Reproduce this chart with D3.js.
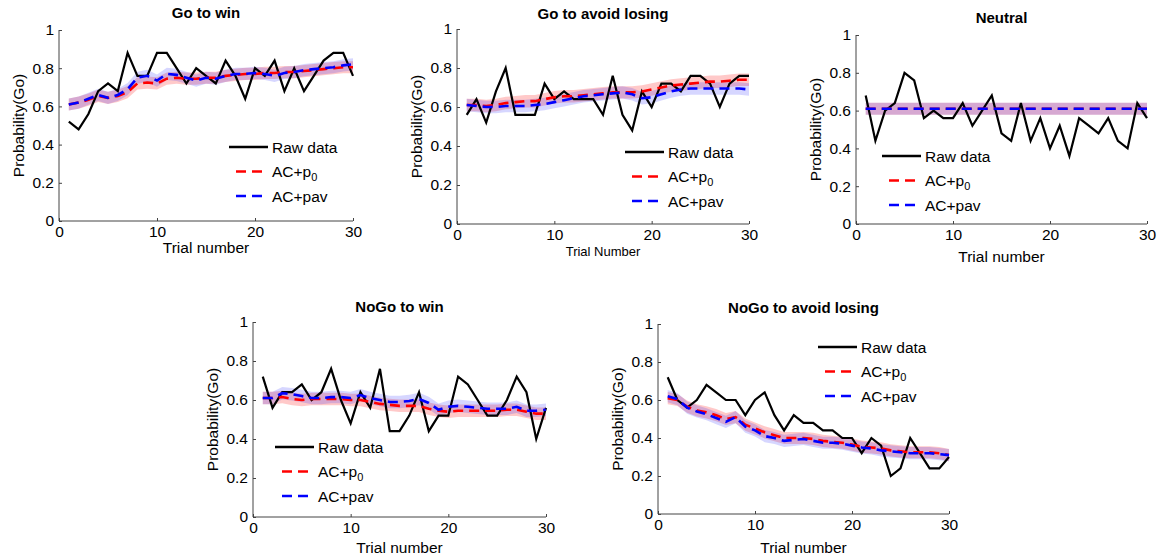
<!DOCTYPE html>
<html>
<head>
<meta charset="utf-8">
<script src="https://cdn.jsdelivr.net/npm/d3@7"></script>
<style>
  body { margin: 0; background: #fff; }
  svg { font-family: Arial, "Liberation Sans", sans-serif; }
  .axis path, .axis line { stroke: #444; }
  .axis text { font-size: 15.5px; fill: #000; }
</style>
</head>
<body>
<script>
// trial numbers 1..30
var trials = [1,2,3,4,5,6,7,8,9,10,11,12,13,14,15,16,17,18,19,20,21,22,23,24,25,26,27,28,29,30];
var xTicks = [0, 10, 20, 30];
var yTicks = [0, 0.2, 0.4, 0.6, 0.8, 1];
var legendLabels = ["Raw data", "AC+p0", "AC+pav"];

// Go to win
var rawGoWin = [0.52,0.48,0.56,0.68,0.72,0.68,0.88,0.76,0.76,0.88,0.88,0.80,0.72,0.80,0.76,0.72,0.84,0.76,0.64,0.80,0.76,0.84,0.68,0.80,0.68,0.76,0.84,0.88,0.88,0.76];
var p0GoWin = [0.61,0.62,0.635,0.655,0.645,0.655,0.675,0.72,0.725,0.72,0.745,0.75,0.745,0.745,0.75,0.75,0.76,0.765,0.77,0.77,0.775,0.775,0.78,0.78,0.785,0.79,0.795,0.80,0.805,0.805];
var pavGoWin = [0.61,0.62,0.64,0.66,0.645,0.66,0.69,0.75,0.76,0.735,0.77,0.765,0.75,0.735,0.75,0.745,0.76,0.77,0.77,0.775,0.77,0.76,0.775,0.78,0.79,0.795,0.80,0.805,0.815,0.82];

// Go to avoid losing
var rawGoAvoid = [0.56,0.64,0.52,0.68,0.80,0.56,0.56,0.56,0.72,0.64,0.68,0.64,0.64,0.64,0.56,0.76,0.56,0.48,0.68,0.60,0.72,0.72,0.68,0.76,0.76,0.72,0.60,0.72,0.76,0.76];
var p0GoAvoid = [0.61,0.61,0.605,0.61,0.62,0.625,0.63,0.63,0.64,0.65,0.655,0.655,0.66,0.665,0.67,0.675,0.675,0.675,0.68,0.69,0.70,0.71,0.715,0.72,0.725,0.73,0.73,0.735,0.74,0.74];
var pavGoAvoid = [0.61,0.605,0.60,0.60,0.605,0.605,0.605,0.61,0.615,0.625,0.635,0.645,0.655,0.66,0.665,0.67,0.675,0.665,0.645,0.65,0.665,0.68,0.69,0.695,0.695,0.695,0.695,0.695,0.695,0.69];

// Neutral
var rawNeutral = [0.68,0.44,0.60,0.64,0.80,0.76,0.56,0.60,0.56,0.56,0.64,0.52,0.60,0.68,0.48,0.44,0.64,0.44,0.56,0.40,0.52,0.36,0.56,0.52,0.48,0.56,0.44,0.40,0.64,0.56];
var p0Neutral = [0.61,0.61,0.61,0.61,0.61,0.61,0.61,0.61,0.61,0.61,0.61,0.61,0.61,0.61,0.61,0.61,0.61,0.61,0.61,0.61,0.61,0.61,0.61,0.61,0.61,0.61,0.61,0.61,0.61,0.61];
var pavNeutral = [0.61,0.61,0.61,0.61,0.61,0.61,0.61,0.61,0.61,0.61,0.61,0.61,0.61,0.61,0.61,0.61,0.61,0.61,0.61,0.61,0.61,0.61,0.61,0.61,0.61,0.61,0.61,0.61,0.61,0.61];

// NoGo to win
var rawNoGoWin = [0.72,0.56,0.64,0.64,0.68,0.60,0.64,0.76,0.60,0.48,0.64,0.56,0.76,0.44,0.44,0.52,0.64,0.44,0.52,0.52,0.72,0.68,0.60,0.52,0.52,0.60,0.72,0.64,0.40,0.56];
var p0NoGoWin = [0.61,0.61,0.615,0.605,0.60,0.605,0.605,0.605,0.605,0.60,0.60,0.59,0.58,0.575,0.57,0.57,0.57,0.555,0.545,0.54,0.545,0.545,0.545,0.545,0.545,0.55,0.55,0.54,0.53,0.53];
var pavNoGoWin = [0.61,0.61,0.635,0.63,0.62,0.61,0.61,0.615,0.615,0.61,0.625,0.61,0.60,0.59,0.59,0.595,0.605,0.585,0.55,0.565,0.57,0.565,0.56,0.555,0.555,0.555,0.565,0.545,0.545,0.55];

// NoGo to avoid losing
var rawNoGoAvoid = [0.72,0.60,0.56,0.60,0.68,0.64,0.60,0.60,0.52,0.60,0.64,0.52,0.44,0.52,0.48,0.48,0.44,0.44,0.40,0.40,0.32,0.40,0.36,0.20,0.24,0.40,0.32,0.24,0.24,0.30];
var p0NoGoAvoid = [0.61,0.60,0.565,0.545,0.535,0.52,0.50,0.51,0.47,0.45,0.43,0.415,0.40,0.40,0.40,0.395,0.385,0.38,0.375,0.365,0.355,0.35,0.345,0.335,0.33,0.325,0.325,0.325,0.32,0.31];
var pavNoGoAvoid = [0.62,0.605,0.56,0.54,0.525,0.505,0.485,0.51,0.46,0.44,0.41,0.40,0.385,0.39,0.395,0.385,0.375,0.375,0.37,0.36,0.35,0.345,0.335,0.33,0.325,0.32,0.32,0.32,0.315,0.31];

var bandHalf = 0.032;

// panel layout
var panels = [
  {title: "Go to win", raw: rawGoWin, p0: p0GoWin, pav: pavGoWin,
   x0: 59, x1: 353, y0: 30, y1: 221, xlab: "Trial number", xlabSize: 15.5, xlabY: 253,
   titleY: 18, legX: 229, legY: 147},
  {title: "Go to avoid losing", raw: rawGoAvoid, p0: p0GoAvoid, pav: pavGoAvoid,
   x0: 457, x1: 749, y0: 29, y1: 224, xlab: "Trial Number", xlabSize: 13, xlabY: 256,
   titleY: 19, legX: 625, legY: 152},
  {title: "Neutral", raw: rawNeutral, p0: p0Neutral, pav: pavNeutral,
   x0: 856, x1: 1147, y0: 35, y1: 224, xlab: "Trial number", xlabSize: 15.5, xlabY: 262,
   titleY: 23, legX: 882, legY: 156},
  {title: "NoGo to win", raw: rawNoGoWin, p0: p0NoGoWin, pav: pavNoGoWin,
   x0: 253, x1: 546, y0: 322, y1: 517, xlab: "Trial number", xlabSize: 15.5, xlabY: 553,
   titleY: 312, legX: 275, legY: 447},
  {title: "NoGo to avoid losing", raw: rawNoGoAvoid, p0: p0NoGoAvoid, pav: pavNoGoAvoid,
   x0: 658, x1: 949, y0: 324, y1: 514, xlab: "Trial number", xlabSize: 15.5, xlabY: 553,
   titleY: 313, legX: 818, legY: 347}
];

var svg = d3.select("body").append("svg")
  .attr("width", 1163)
  .attr("height", 560);

panels.forEach(function(p){
  var x = d3.scaleLinear().domain([0, 30]).range([p.x0, p.x1]);
  var y = d3.scaleLinear().domain([0, 1]).range([p.y1, p.y0]);
  var g = svg.append("g");

  // shaded bands
  var area = d3.area()
    .x(function(d, i){ return x(trials[i]); })
    .y0(function(d){ return y(d - bandHalf); })
    .y1(function(d){ return y(d + bandHalf); });
  g.append("path").datum(p.p0).attr("d", area).attr("fill", "rgb(255,0,0)").attr("fill-opacity", 0.21);
  g.append("path").datum(p.pav).attr("d", area).attr("fill", "rgb(0,0,255)").attr("fill-opacity", 0.16);

  // axes
  g.append("g").attr("class", "axis")
    .attr("transform", "translate(0," + p.y1 + ")")
    .call(d3.axisBottom(x).tickValues(xTicks).tickSize(-3).tickPadding(5).tickFormat(d3.format("d")))
    .call(function(a){ a.select(".domain").attr("d", "M" + p.x0 + ",0H" + p.x1); });
  g.append("g").attr("class", "axis")
    .attr("transform", "translate(" + p.x0 + ",0)")
    .call(d3.axisLeft(y).tickValues(yTicks).tickSize(-3).tickPadding(5).tickFormat(function(d){ return d === 0 || d === 1 ? d : d3.format(".1f")(d); }))
    .call(function(a){ a.select(".domain").attr("d", "M0," + p.y1 + "V" + p.y0); });

  var line = d3.line()
    .x(function(d, i){ return x(trials[i]); })
    .y(function(d){ return y(d); });

  g.append("path").datum(p.raw).attr("d", line)
    .attr("fill", "none").attr("stroke", "#000").attr("stroke-width", 2.2);
  g.append("path").datum(p.p0).attr("d", line)
    .attr("fill", "none").attr("stroke", "#f00").attr("stroke-width", 2.6).attr("stroke-dasharray", "10,6");
  g.append("path").datum(p.pav).attr("d", line)
    .attr("fill", "none").attr("stroke", "#00f").attr("stroke-width", 2.6).attr("stroke-dasharray", "10,6");

  // title and labels
  g.append("text").attr("x", (p.x0 + p.x1) / 2).attr("y", p.titleY)
    .attr("text-anchor", "middle").attr("font-weight", "bold").attr("font-size", 15).text(p.title);
  g.append("text").attr("x", (p.x0 + p.x1) / 2).attr("y", p.xlabY)
    .attr("text-anchor", "middle").attr("font-size", p.xlabSize).text(p.xlab);
  g.append("text")
    .attr("transform", "translate(" + (p.x0 - 35) + "," + ((p.y0 + p.y1) / 2) + ") rotate(-90)")
    .attr("text-anchor", "middle").attr("font-size", 15.5).text("Probability(Go)");

  // legend
  var styles = [
    {stroke: "#000", dash: null, x: 0},
    {stroke: "#f00", dash: "10,6", x: 7},
    {stroke: "#00f", dash: "10,6", x: 7}
  ];
  legendLabels.forEach(function(lab, i){
    var ly = p.legY + i * 24.5;
    g.append("line").attr("x1", p.legX + styles[i].x).attr("x2", p.legX + 39)
      .attr("y1", ly).attr("y2", ly)
      .attr("stroke", styles[i].stroke).attr("stroke-width", 2.4)
      .attr("stroke-dasharray", styles[i].dash);
    var t = g.append("text").attr("x", p.legX + 43).attr("y", ly + 5.5).attr("font-size", 15.5);
    if (lab === "AC+p0") {
      t.append("tspan").text("AC+p");
      t.append("tspan").attr("font-size", 11).attr("dy", 4).text("0");
    } else {
      t.text(lab);
    }
  });
});
</script>
</body>
</html>
